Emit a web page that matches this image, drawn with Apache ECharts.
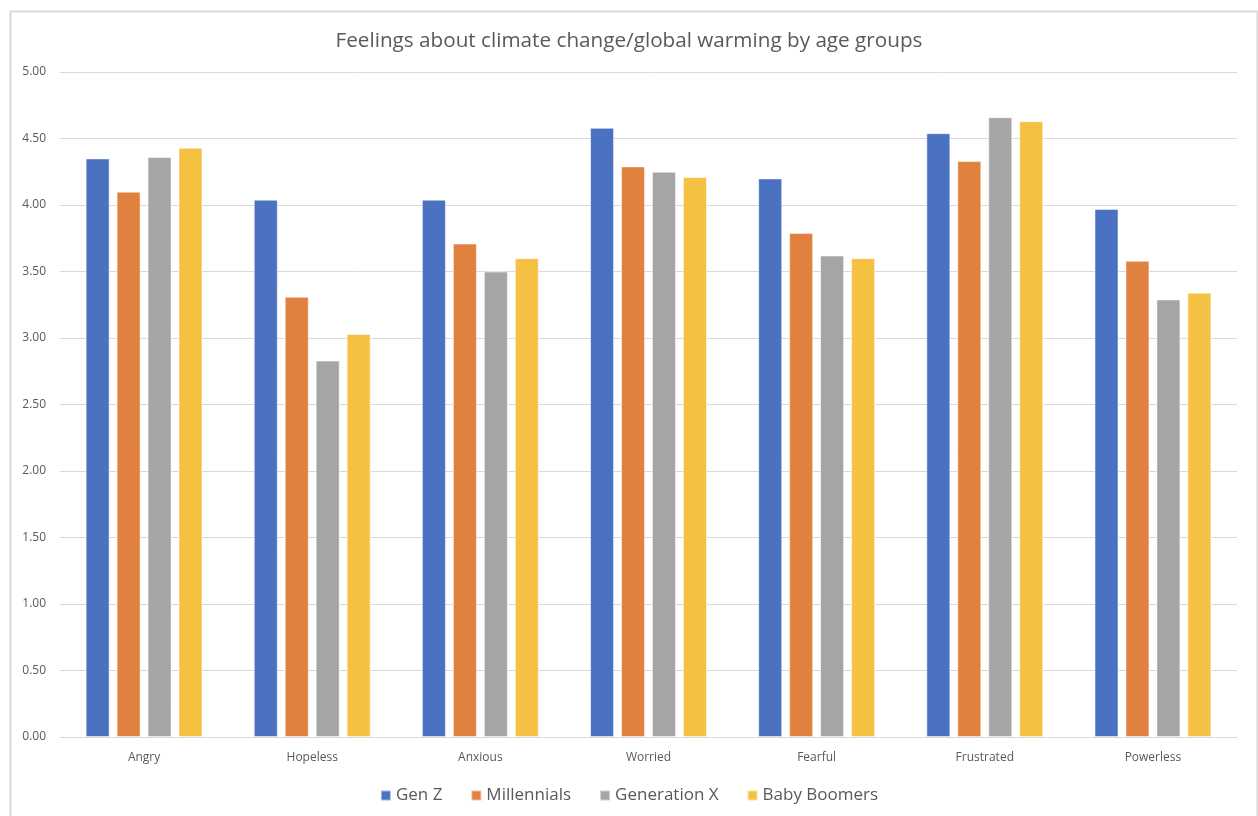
<!DOCTYPE html>
<html>
<head>
<meta charset="utf-8">
<script src="https://cdn.jsdelivr.net/npm/echarts@6/dist/echarts.min.js"></script>
<style>
html,body{margin:0;padding:0;background:#fff;}
#chart{width:1258px;height:816px;}
</style>
</head>
<body>
<div id="chart"></div>
<script>
const categories = ["Angry","Hopeless","Anxious","Worried","Fearful","Frustrated","Powerless"];
const seriesNames = ["Gen Z","Millennials","Generation X","Baby Boomers"];
const genZ = [4.35, 4.04, 4.04, 4.58, 4.20, 4.54, 3.97];
const millennials = [4.10, 3.31, 3.71, 4.29, 3.79, 4.33, 3.58];
const genX = [4.36, 2.83, 3.50, 4.25, 3.62, 4.66, 3.29];
const boomers = [4.43, 3.03, 3.60, 4.21, 3.60, 4.63, 3.34];
const colors = ["#4A72C0","#E0813F","#A5A5A5","#F5C143"];

const chart = echarts.init(document.getElementById('chart'));
const font = '"Open Sans", Lato, sans-serif';
const dataSets = [genZ, millennials, genX, boomers];
chart.setOption({
  animation: false,
  backgroundColor: '#fff',
  graphic: [{
    type: 'rect', left: 8, top: 9, silent: true,
    shape: {width: 1247, height: 830},
    style: {fill: 'none', stroke: '#d9d9d9', lineWidth: 2}
  }],
  title: {
    text: 'Feelings about climate change/global warming by age groups',
    left: 'center', top: 26,
    textStyle: {fontFamily: font, fontSize: 20.7, fontWeight: 'normal', color: '#595959'}
  },
  legend: {
    data: seriesNames, top: 782, left: 'center',
    itemWidth: 10, itemHeight: 10, itemGap: 28, icon: 'rect',
    textStyle: {fontFamily: font, fontSize: 17, color: '#595959'}
  },
  grid: {left: 60, right: 21, top: 72, bottom: 79, containLabel: false},
  xAxis: {
    type: 'category', data: categories,
    axisLine: {lineStyle: {color: '#d9d9d9', width: 1}},
    axisTick: {show: false},
    axisLabel: {fontFamily: font, fontSize: 12, color: '#595959', margin: 15}
  },
  yAxis: {
    type: 'value', min: 0, max: 5, interval: 0.5,
    axisLine: {show: false}, axisTick: {show: false},
    splitLine: {lineStyle: {color: '#d9d9d9', width: 1}},
    axisLabel: {fontFamily: font, fontSize: 12, color: '#595959', margin: 14,
      formatter: v => v.toFixed(2)}
  },
  series: seriesNames.map((n, i) => ({
    name: n, type: 'bar', data: dataSets[i],
    barWidth: 24, barGap: '29%',
    itemStyle: {color: colors[i], borderColor: 'rgba(255,255,255,0.5)', borderWidth: 1}
  }))
});
</script>
</body>
</html>
